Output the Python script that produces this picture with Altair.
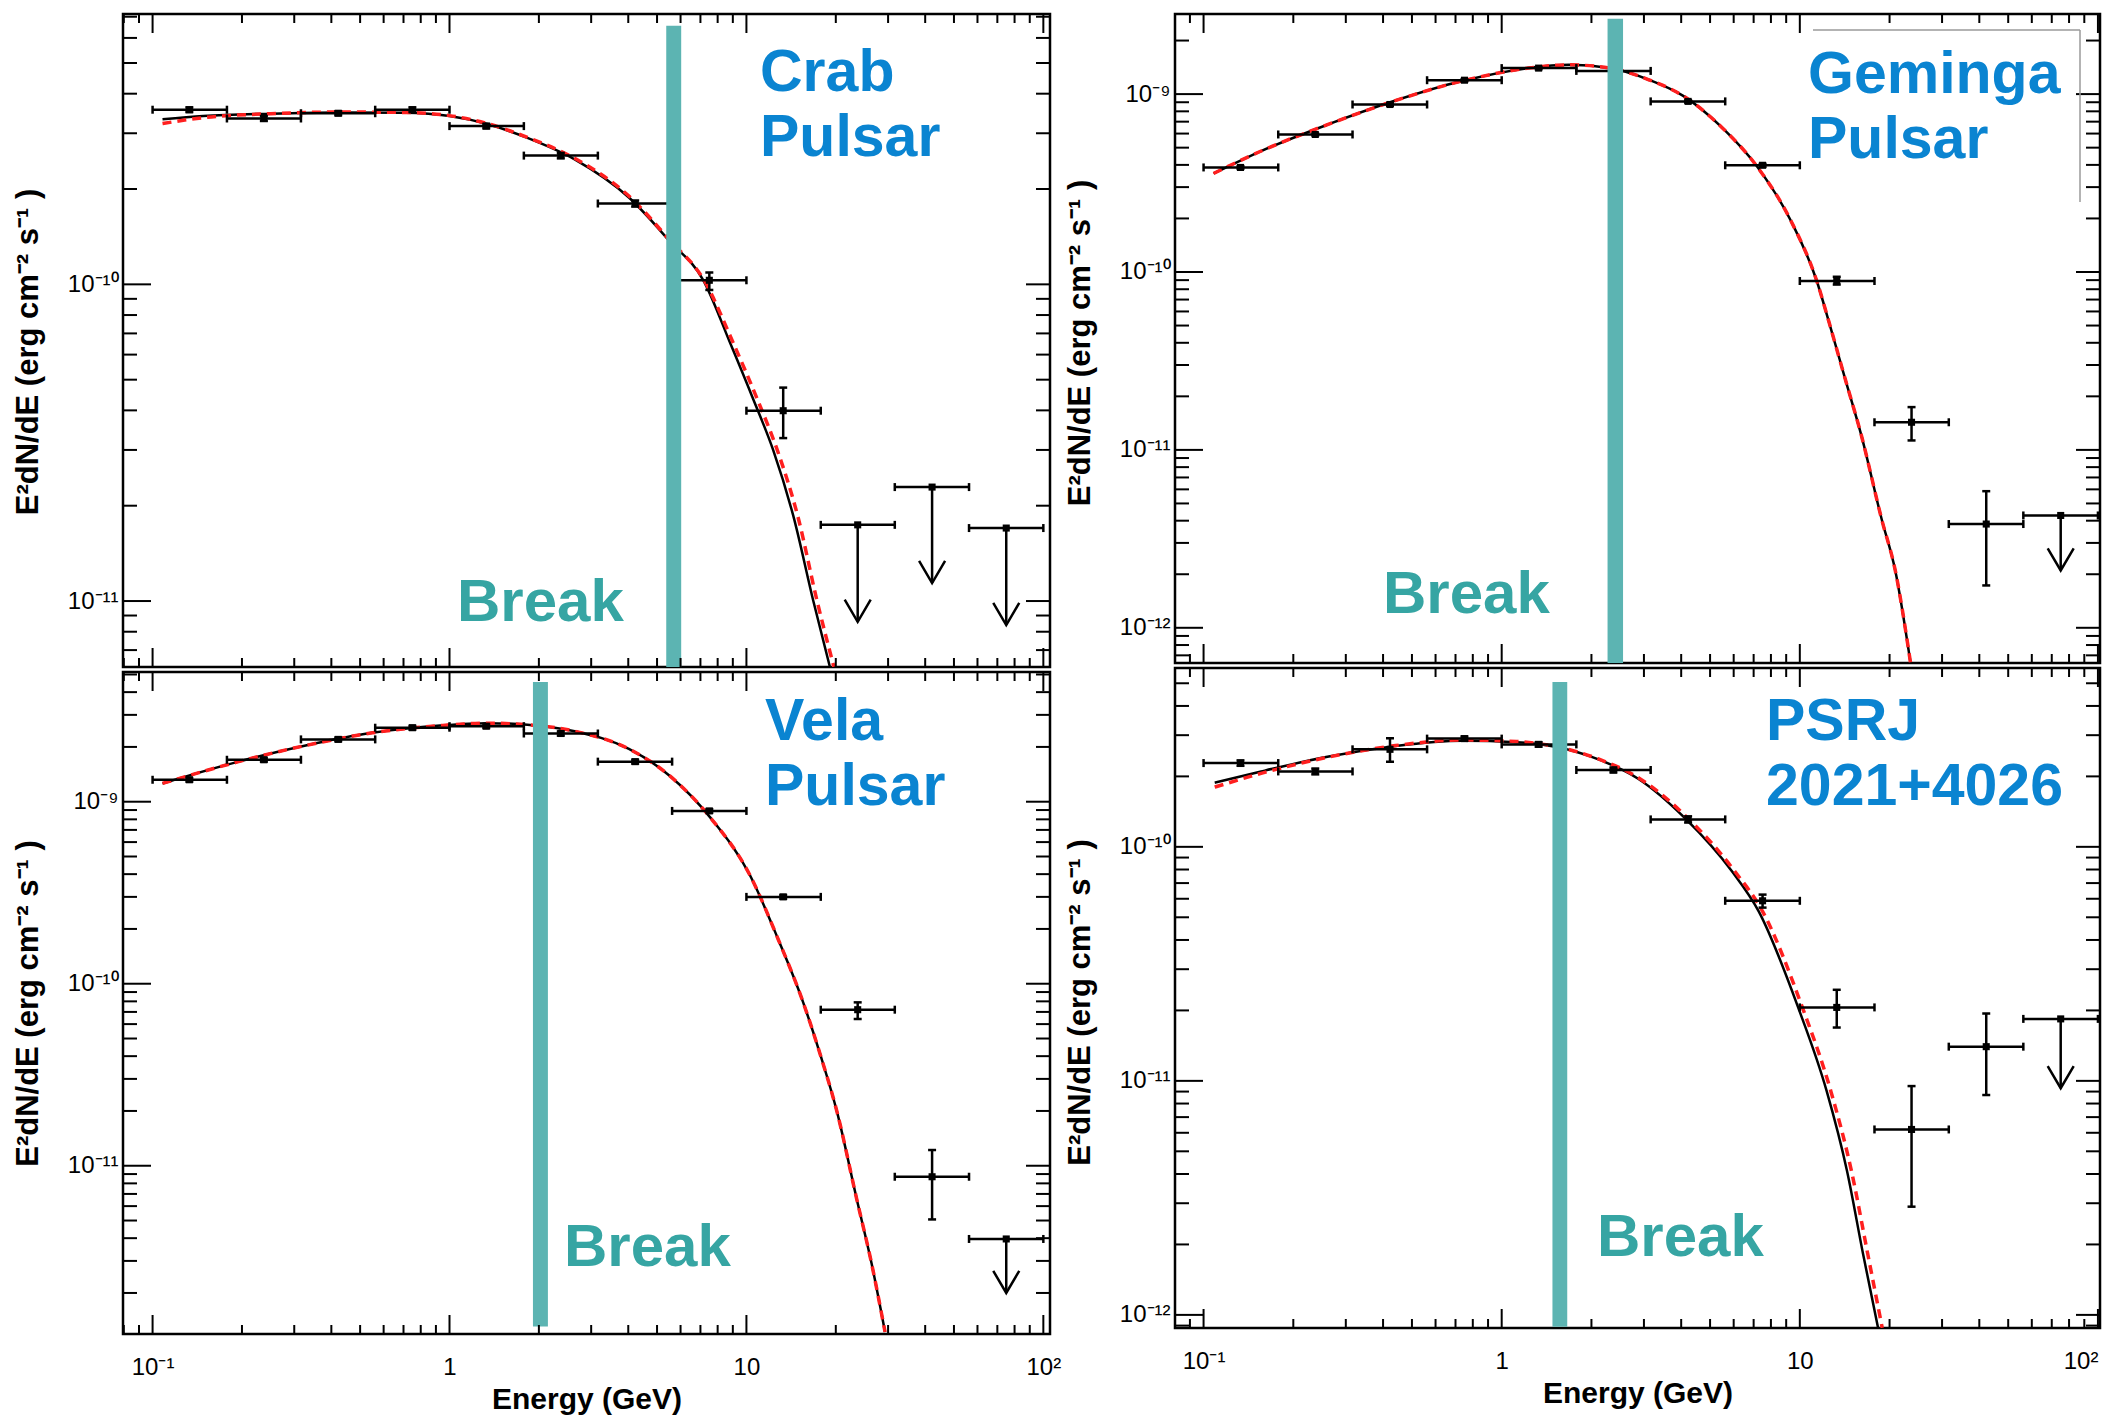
import math
import altair as alt
import pandas as pd

# ---------------- data ----------------
E_CENTER = [0.133, 0.237, 0.422, 0.75, 1.33, 2.37, 4.22, 7.5, 13.3, 23.7, 42.2, 75.0]
E_LOW = [0.1, 0.178, 0.316, 0.562, 1.0, 1.78, 3.16, 5.62, 10.0, 17.8, 31.6, 56.2]
E_HIGH = [0.178, 0.316, 0.562, 1.0, 1.78, 3.16, 5.62, 10.0, 17.8, 31.6, 56.2, 100.0]

# Crab
CRAB_FLUX = [3.56e-10, 3.34e-10, 3.47e-10, 3.56e-10, 3.16e-10, 2.55e-10, 1.80e-10, 1.03e-10, 3.99e-11, 1.74e-11, 2.29e-11, 1.70e-11]
CRAB_LO = [3.50e-10, 3.28e-10, 3.42e-10, 3.50e-10, 3.11e-10, 2.50e-10, 1.76e-10, 0.96e-10, 3.27e-11, 1.74e-11, 2.29e-11, 1.70e-11]
CRAB_HI = [3.62e-10, 3.40e-10, 3.52e-10, 3.62e-10, 3.21e-10, 2.60e-10, 1.84e-10, 1.09e-10, 4.72e-11, 1.74e-11, 2.29e-11, 1.70e-11]
CRAB_UL = [False] * 9 + [True] * 3
CRAB_TIP = [None] * 9 + [8.6e-12, 1.14e-11, 8.4e-12]
CRAB_MODEL_E = [0.108, 0.148, 0.25, 0.42, 0.71, 1.0, 1.34, 1.83, 2.64, 4.02, 5.51, 7.16, 8.83, 10.56, 12.3, 14.4, 16.8, 19.1]
CRAB_MODEL_F = [3.32e-10, 3.40e-10, 3.46e-10, 3.49e-10, 3.48e-10, 3.40e-10, 3.21e-10, 2.90e-10, 2.48e-10, 1.88e-10, 1.37e-10, 1.03e-10, 6.5e-11, 4.32e-11, 3.0e-11, 1.85e-11, 1.0e-11, 6.2e-12]
CRAB_ALT_E = [0.108, 0.148, 0.25, 0.42, 0.71, 1.0, 1.34, 1.83, 2.64, 4.02, 5.51, 7.2, 9.05, 10.9, 12.7, 14.9, 17.3, 19.7]
CRAB_ALT_F = [3.22e-10, 3.36e-10, 3.46e-10, 3.50e-10, 3.49e-10, 3.41e-10, 3.22e-10, 2.91e-10, 2.50e-10, 1.90e-10, 1.38e-10, 1.03e-10, 6.5e-11, 4.32e-11, 3.0e-11, 1.85e-11, 1.0e-11, 6.2e-12]
CRAB_BAND_E = [5.37, 6.03]
CRAB_BAND_F = [6.55e-10, 6.19e-12]

# Geminga
GEM_FLUX = [3.87e-10, 5.93e-10, 8.74e-10, 1.197e-9, 1.40e-9, 1.35e-9, 9.1e-10, 3.98e-10, 8.9e-11, 1.43e-11, 3.83e-12, 4.28e-12]
GEM_LO = [3.80e-10, 5.85e-10, 8.6e-10, 1.18e-9, 1.38e-9, 1.33e-9, 8.95e-10, 3.9e-10, 8.5e-11, 1.13e-11, 1.73e-12, 4.28e-12]
GEM_HI = [3.94e-10, 6.0e-10, 8.9e-10, 1.21e-9, 1.42e-9, 1.37e-9, 9.25e-10, 4.05e-10, 9.4e-11, 1.74e-11, 5.86e-12, 4.28e-12]
GEM_UL = [False] * 11 + [True]
GEM_TIP = [None] * 11 + [2.1e-12]
GEM_MODEL_E = [0.108, 0.154, 0.259, 0.435, 0.73, 1.23, 1.68, 2.3, 3.13, 4.05, 5.5, 7.2, 9.35, 11.4, 12.5, 14.2, 16.1, 18.8, 20.9, 23.5]
GEM_MODEL_F = [3.58e-10, 4.74e-10, 6.71e-10, 9.14e-10, 1.18e-9, 1.40e-9, 1.46e-9, 1.40e-9, 1.20e-9, 9.8e-10, 6.45e-10, 3.9e-10, 1.93e-10, 8.9e-11, 5.3e-11, 2.5e-11, 1.2e-11, 4.1e-12, 2.1e-12, 6.4e-13]
GEM_BAND_E = [2.265, 2.553]
GEM_BAND_F = [2.65e-9, 6.34e-13]

# Vela
VELA_FLUX = [1.32e-9, 1.70e-9, 2.20e-9, 2.55e-9, 2.60e-9, 2.37e-9, 1.66e-9, 8.9e-10, 3.0e-10, 7.2e-11, 8.7e-12, 3.96e-12]
VELA_LO = [1.29e-9, 1.66e-9, 2.15e-9, 2.49e-9, 2.54e-9, 2.31e-9, 1.62e-9, 8.7e-10, 2.93e-10, 6.4e-11, 5.07e-12, 3.96e-12]
VELA_HI = [1.35e-9, 1.74e-9, 2.25e-9, 2.61e-9, 2.66e-9, 2.43e-9, 1.70e-9, 9.1e-10, 3.07e-10, 7.9e-11, 1.22e-11, 3.96e-12]
VELA_UL = [False] * 11 + [True]
VELA_TIP = [None] * 11 + [2.0e-12]
VELA_MODEL_E = [0.108, 0.192, 0.325, 0.55, 0.93, 1.34, 1.83, 2.64, 4.02, 5.51, 7.55, 10.3, 12.8, 15.4, 17.8, 20.2, 23.5, 26.4, 29.3]
VELA_MODEL_F = [1.26e-9, 1.65e-9, 2.03e-9, 2.39e-9, 2.62e-9, 2.70e-9, 2.65e-9, 2.44e-9, 1.95e-9, 1.39e-9, 8.2e-10, 3.92e-10, 1.75e-10, 8.2e-11, 4.0e-11, 1.97e-11, 6.6e-12, 2.9e-12, 1.22e-12]
VELA_BAND_E = [1.91, 2.145]
VELA_BAND_F = [4.55e-9, 1.31e-12]

# PSR J2021+4026
PSR_FLUX = [2.28e-10, 2.10e-10, 2.61e-10, 2.90e-10, 2.74e-10, 2.13e-10, 1.31e-10, 5.88e-11, 2.06e-11, 6.2e-12, 1.40e-11, 1.84e-11]
PSR_LO = [2.22e-10, 2.04e-10, 2.31e-10, 2.84e-10, 2.68e-10, 2.08e-10, 1.27e-10, 5.5e-11, 1.69e-11, 2.9e-12, 8.7e-12, 1.84e-11]
PSR_HI = [2.34e-10, 2.16e-10, 2.91e-10, 2.96e-10, 2.80e-10, 2.18e-10, 1.35e-10, 6.25e-11, 2.45e-11, 9.5e-12, 1.94e-11, 1.84e-11]
PSR_UL = [False] * 11 + [True]
PSR_TIP = [None] * 11 + [9.3e-12]
PSR_MODEL_E = [0.109, 0.156, 0.263, 0.441, 0.74, 1.12, 1.53, 2.10, 2.86, 4.11, 5.92, 7.28, 9.87, 12.3, 14.4, 16.3, 18.3]
PSR_MODEL_F = [1.88e-10, 2.10e-10, 2.43e-10, 2.70e-10, 2.84e-10, 2.80e-10, 2.67e-10, 2.37e-10, 1.96e-10, 1.33e-10, 7.86e-11, 5.3e-11, 2.06e-11, 9.06e-12, 4.12e-12, 1.82e-12, 8.8e-13]
PSR_ALT_E = [0.109, 0.156, 0.263, 0.441, 0.74, 1.12, 1.53, 2.10, 2.9, 4.2, 6.05, 7.5, 10.2, 12.7, 14.9, 16.9, 18.9]
PSR_ALT_F = [1.80e-10, 2.06e-10, 2.42e-10, 2.71e-10, 2.86e-10, 2.82e-10, 2.68e-10, 2.38e-10, 1.96e-10, 1.33e-10, 7.86e-11, 5.3e-11, 2.06e-11, 9.06e-12, 4.12e-12, 1.82e-12, 8.8e-13]
PSR_BAND_E = [1.48, 1.659]
PSR_BAND_F = [5.06e-10, 8.9e-13]

# axes
X_TICKS = [0.1, 1, 10, 100]
X_TICK_LABELS = ["10⁻¹", "1", "10", "10²"]
Y_TICKS = [1e-12, 1e-11, 1e-10, 1e-9]
Y_TICK_LABELS = ["10⁻¹²", "10⁻¹¹", "10⁻¹⁰", "10⁻⁹"]
MINOR = [2, 3, 4, 5, 6, 7, 8, 9]
X_TITLE = "Energy (GeV)"
Y_TITLE = "E²dN/dE (erg cm⁻² s⁻¹ )"

LEFT_X_DOMAIN = [0.0795, 105.3]
RIGHT_X_DOMAIN = [0.0802, 101.6]
CRAB_Y_DOMAIN = [6.19e-12, 7.14e-10]
GEM_Y_DOMAIN = [6.34e-13, 2.82e-9]
VELA_Y_DOMAIN = [1.19e-12, 5.16e-9]
PSR_Y_DOMAIN = [8.79e-13, 5.81e-10]

# ---------------- style ----------------
FONT = "Liberation Sans"
RED = "#ff1f1f"
TEAL_BAND = "#5cb4b2"
TEAL_TEXT = "#36a5a3"
BLUE = "#0a84d1"
ARROW = "M-1,-1.7L0,0L1,-1.7"
ONE = pd.DataFrame({"a": [0]})


def build_expr(vals, labels):
    expr = "''"
    for v, lab in zip(vals, labels):
        expr = f"abs(log(datum.value) - ({math.log(v):.6f})) < 0.01 ? '{lab}' : ({expr})"
    return expr


def in_dom(v, dom):
    return dom[0] * 0.9999 <= v <= dom[1] * 1.0001


def text_layer(s, x, y, size, color):
    return alt.Chart(ONE).mark_text(
        align="left", baseline="alphabetic", font=FONT, fontSize=size,
        fontWeight="bold", color=color
    ).encode(x=alt.value(x), y=alt.value(y), text=alt.value(s))


def panel(p):
    w, h = p["w"], p["h"]
    xdom, ydom = p["xdom"], p["ydom"]
    xs = alt.Scale(type="log", domain=xdom, nice=False)
    ys = alt.Scale(type="log", domain=ydom, nice=False)

    yv = [v for v in Y_TICKS if in_dom(v, ydom)]
    yl = [l for v, l in zip(Y_TICKS, Y_TICK_LABELS) if in_dom(v, ydom)]
    yaxis = alt.Axis(values=yv, labelExpr=build_expr(yv, yl), title=Y_TITLE,
                     ticks=False, domain=False, grid=False, labelFont=FONT,
                     labelFontSize=24, labelPadding=5, labelColor="black",
                     titleFont=FONT, titleFontSize=31, titleFontWeight="bold",
                     titlePadding=23, titleColor="black", titleY=h / 2 + p["ty"])
    if p["xaxis"]:
        xv = [v for v in X_TICKS if in_dom(v, xdom)]
        xl = [l for v, l in zip(X_TICKS, X_TICK_LABELS) if in_dom(v, xdom)]
        xaxis = alt.Axis(values=xv, labelExpr=build_expr(xv, xl), title=X_TITLE,
                         ticks=False, domain=False, grid=False, labelFont=FONT,
                         labelFontSize=24, labelPadding=21, labelColor="black",
                         labelFlush=p["flush"], labelOverlap=False,
                         titleFont=FONT, titleFontSize=30, titleFontWeight="bold",
                         titlePadding=5, titleColor="black")
    else:
        xaxis = None

    def X(f):
        return alt.X(f, type="quantitative", scale=xs, axis=xaxis)

    def Y(f):
        return alt.Y(f, type="quantitative", scale=ys, axis=yaxis)

    pts = pd.DataFrame({"E": E_CENTER, "Elo": E_LOW, "Ehi": E_HIGH,
                        "F": p["flux"], "Flo": p["lo"], "Fhi": p["hi"],
                        "ul": p["ul"], "tip": p["tip"]})
    model = pd.DataFrame({"E": p["mE"], "F": p["mF"]})
    alt_model = pd.DataFrame({"E": p["aE"], "F": p["aF"]})
    band = pd.DataFrame({"B0": [p["bandE"][0]], "B1": [p["bandE"][1]],
                         "top": [p["bandF"][0]], "bot": [p["bandF"][1]]})

    layers = []
    layers.append(alt.Chart(model).mark_line(color="black", strokeWidth=2.5,
                  interpolate="monotone", clip=True).encode(x=X("E"), y=Y("F")))
    layers.append(alt.Chart(alt_model).mark_line(color=RED, strokeWidth=3.5,
                  strokeDash=[9, 6], interpolate="monotone", clip=True).encode(x=X("E"), y=Y("F")))
    layers.append(alt.Chart(pts).mark_rule(color="black", strokeWidth=2.5).encode(
        x=X("Elo"), x2="Ehi:Q", y=Y("F")))
    layers.append(alt.Chart(pts).transform_fold(["Elo", "Ehi"], as_=["k", "Ecap"]).mark_tick(
        orient="vertical", size=8, thickness=2.5, color="black", opacity=1).encode(
        x=X("Ecap"), y=Y("F")))
    layers.append(alt.Chart(pts).transform_filter("!datum.ul").mark_rule(
        color="black", strokeWidth=2.5).encode(x=X("E"), y=Y("Flo"), y2="Fhi:Q"))
    layers.append(alt.Chart(pts).transform_filter("!datum.ul").transform_fold(
        ["Flo", "Fhi"], as_=["k", "Fcap"]).mark_tick(
        orient="horizontal", size=8, thickness=2.5, color="black", opacity=1).encode(
        x=X("E"), y=Y("Fcap")))
    layers.append(alt.Chart(pts).transform_filter("datum.ul").mark_rule(
        color="black", strokeWidth=2.5).encode(x=X("E"), y=Y("F"), y2="tip:Q"))
    layers.append(alt.Chart(pts).transform_filter("datum.ul").mark_point(
        shape=ARROW, size=676, filled=False, strokeWidth=2.5, color="black",
        opacity=1).encode(x=X("E"), y=Y("tip")))
    layers.append(alt.Chart(pts).mark_square(size=50, color="black", opacity=1).encode(
        x=X("E"), y=Y("F")))
    layers.append(alt.Chart(band).mark_rect(color=TEAL_BAND, opacity=1).encode(
        x=X("B0"), x2="B1:Q", y=Y("top"), y2="bot:Q"))

    # inward ticks on all four sides
    xmaj = pd.DataFrame({"T": [v for v in X_TICKS if in_dom(v, xdom)]})
    xmin = pd.DataFrame({"T": [d * m for d in [0.01, 0.1, 1, 10] for m in MINOR if in_dom(d * m, xdom)]})
    ymaj = pd.DataFrame({"T": [v for v in Y_TICKS if in_dom(v, ydom)]})
    ymin = pd.DataFrame({"T": [d * m for d in [1e-13, 1e-12, 1e-11, 1e-10, 1e-9] for m in MINOR if in_dom(d * m, ydom)]})
    for df, L in [(xmaj, 19), (xmin, 9)]:
        layers.append(alt.Chart(df).mark_rule(color="black", strokeWidth=2).encode(
            x=X("T"), y=alt.value(0), y2=alt.value(L)))
        layers.append(alt.Chart(df).mark_rule(color="black", strokeWidth=2).encode(
            x=X("T"), y=alt.value(h), y2=alt.value(h - L)))
    for df, L, R in [(ymaj, 28, 24), (ymin, 14, 14)]:
        layers.append(alt.Chart(df).mark_rule(color="black", strokeWidth=2).encode(
            y=Y("T"), x=alt.value(0), x2=alt.value(L)))
        layers.append(alt.Chart(df).mark_rule(color="black", strokeWidth=2).encode(
            y=Y("T"), x=alt.value(w), x2=alt.value(w - R)))

    if p.get("box"):
        bx0, bx1, by0, by1 = p["box"]
        layers.append(alt.Chart(ONE).mark_rule(color="#9a9a9a", strokeWidth=1.5).encode(
            x=alt.value(bx0), x2=alt.value(bx1), y=alt.value(by0)))
        layers.append(alt.Chart(ONE).mark_rule(color="#9a9a9a", strokeWidth=1.5).encode(
            x=alt.value(bx1), y=alt.value(by0), y2=alt.value(by1)))

    for s, x, y in p["names"]:
        layers.append(text_layer(s, x, y, 59, BLUE))
    bx, by = p["break_pos"]
    layers.append(text_layer("Break", bx, by, 60, TEAL_TEXT))

    return alt.layer(*layers).properties(width=w, height=h)


crab = panel(dict(w=927, h=653, xdom=LEFT_X_DOMAIN, ydom=CRAB_Y_DOMAIN, xaxis=False, ty=11,
                  flux=CRAB_FLUX, lo=CRAB_LO, hi=CRAB_HI, ul=CRAB_UL, tip=CRAB_TIP,
                  mE=CRAB_MODEL_E, mF=CRAB_MODEL_F, aE=CRAB_ALT_E, aF=CRAB_ALT_F,
                  bandE=CRAB_BAND_E, bandF=CRAB_BAND_F,
                  names=[("Crab", 637, 77), ("Pulsar", 637, 142)], break_pos=(334, 607)))
vela = panel(dict(w=927, h=662, xdom=LEFT_X_DOMAIN, ydom=VELA_Y_DOMAIN, xaxis=True, flush=False, ty=0,
                  flux=VELA_FLUX, lo=VELA_LO, hi=VELA_HI, ul=VELA_UL, tip=VELA_TIP,
                  mE=VELA_MODEL_E, mF=VELA_MODEL_F, aE=VELA_MODEL_E, aF=VELA_MODEL_F,
                  bandE=VELA_BAND_E, bandF=VELA_BAND_F,
                  names=[("Vela", 642, 68), ("Pulsar", 642, 133)], break_pos=(441, 594)))
gem = panel(dict(w=925, h=649, xdom=RIGHT_X_DOMAIN, ydom=GEM_Y_DOMAIN, xaxis=False, ty=4,
                 flux=GEM_FLUX, lo=GEM_LO, hi=GEM_HI, ul=GEM_UL, tip=GEM_TIP,
                 mE=GEM_MODEL_E, mF=GEM_MODEL_F, aE=GEM_MODEL_E, aF=GEM_MODEL_F,
                 bandE=GEM_BAND_E, bandF=GEM_BAND_F, box=(638, 905, 16, 188),
                 names=[("Geminga", 633, 79), ("Pulsar", 633, 144)], break_pos=(208, 599)))
psr = panel(dict(w=925, h=660, xdom=RIGHT_X_DOMAIN, ydom=PSR_Y_DOMAIN, xaxis=True, flush=4, ty=4,
                 flux=PSR_FLUX, lo=PSR_LO, hi=PSR_HI, ul=PSR_UL, tip=PSR_TIP,
                 mE=PSR_MODEL_E, mF=PSR_MODEL_F, aE=PSR_ALT_E, aF=PSR_ALT_F,
                 bandE=PSR_BAND_E, bandF=PSR_BAND_F,
                 names=[("PSRJ", 591, 72), ("2021+4026", 591, 137)], break_pos=(422, 588)))

left = alt.vconcat(crab, vela, spacing=-1)
right = alt.vconcat(gem, psr, spacing=-1)
chart = alt.hconcat(left, right, spacing=1).properties(
    padding={"left": 11, "top": 11, "right": 6, "bottom": 2},
    background="white",
).configure_view(stroke="black", strokeWidth=2.5)

chart.save("out.html", embed_options={"renderer": "svg", "actions": False})
